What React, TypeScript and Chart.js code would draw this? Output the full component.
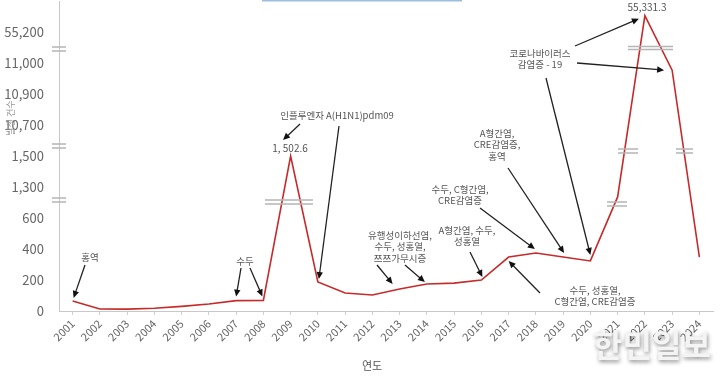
import React, { useEffect, useRef } from 'react';
import { Chart, registerables } from 'chart.js';
Chart.register(...registerables);

const YEARS = ['2001','2002','2003','2004','2005','2006','2007','2008','2009','2010','2011','2012','2013','2014','2015','2016','2017','2018','2019','2020','2021','2022','2023','2024'];
const CASES = [65, 13, 12, 18, 30, 45, 67, 68, 1502.6, 187, 116, 103, 142, 174, 180, 200, 348, 374, 348, 323, 1076, 55331.3, 10977, 348];
// broken axis: evenly spaced segment boundaries
const Y_BREAKS = [0, 200, 400, 600, 1300, 1500, 10700, 10900, 11000, 55200, 55450];
const Y_TICK_LABELS = ['0', '200', '400', '600', '1,300', '1,500', '10,700', '10,900', '11,000', '55,200'];

const FONT = '"Noto Sans CJK KR", "Noto Sans", sans-serif';

function toAxis(v: number): number {
  for (let i = 0; i < Y_BREAKS.length - 1; i++) {
    if (v <= Y_BREAKS[i + 1]) return i + (v - Y_BREAKS[i]) / (Y_BREAKS[i + 1] - Y_BREAKS[i]);
  }
  return Y_BREAKS.length - 1;
}

function arrow(ctx: CanvasRenderingContext2D, x1: number, y1: number, x2: number, y2: number) {
  const a = Math.atan2(y2 - y1, x2 - x1);
  const h = 7;
  ctx.save();
  ctx.strokeStyle = '#222';
  ctx.fillStyle = '#111';
  ctx.lineWidth = 1.3;
  ctx.beginPath();
  ctx.moveTo(x1, y1);
  ctx.lineTo(x2 - Math.cos(a) * h * 0.8, y2 - Math.sin(a) * h * 0.8);
  ctx.stroke();
  ctx.beginPath();
  ctx.moveTo(x2, y2);
  ctx.lineTo(x2 - h * Math.cos(a) + 3.2 * Math.sin(a), y2 - h * Math.sin(a) - 3.2 * Math.cos(a));
  ctx.lineTo(x2 - h * Math.cos(a) - 3.2 * Math.sin(a), y2 - h * Math.sin(a) + 3.2 * Math.cos(a));
  ctx.closePath();
  ctx.fill();
  ctx.restore();
}

function texts(ctx: CanvasRenderingContext2D, lines: string[], cx: number, cy: number, size = 9.5, lh = 11.5, color = '#555') {
  ctx.save();
  ctx.fillStyle = color;
  ctx.font = `${size}px ${FONT}`;
  ctx.textAlign = 'center';
  ctx.textBaseline = 'middle';
  lines.forEach((l, i) => ctx.fillText(l, cx, cy + i * lh));
  ctx.restore();
}

function breakMark(ctx: CanvasRenderingContext2D, x1: number, x2: number, y: number, gap = 4) {
  ctx.save();
  ctx.strokeStyle = '#b5b5b5';
  ctx.lineWidth = 1.6;
  ctx.beginPath();
  ctx.moveTo(x1, y - gap / 2); ctx.lineTo(x2, y - gap / 2);
  ctx.moveTo(x1, y + gap / 2); ctx.lineTo(x2, y + gap / 2);
  ctx.stroke();
  ctx.restore();
}

const annotPlugin = {
  id: 'annot',
  afterDatasetsDraw(chart: any) {
    const ctx: CanvasRenderingContext2D = chart.ctx;
    const xs = chart.scales.x, ys = chart.scales.y;
    const P = (i: number) => ({ x: xs.getPixelForValue(i), y: ys.getPixelForValue(toAxis(CASES[i])) });

    // top thin blue line
    ctx.save();
    ctx.strokeStyle = '#9fbde0';
    ctx.lineWidth = 1.5;
    ctx.beginPath(); ctx.moveTo(262, 0.8); ctx.lineTo(462, 0.8); ctx.stroke();
    ctx.restore();

    // axis break marks
    const ax = chart.chartArea.left;
    [49, 146, 200].forEach((y) => breakMark(ctx, ax - 7, ax + 7, y));
    // line break marks
    breakMark(ctx, 265, 313, 202);
    breakMark(ctx, 607, 627, 204);
    breakMark(ctx, 618, 638, 151);
    breakMark(ctx, 676, 693, 151);
    breakMark(ctx, 628, 673, 48, 3);

    // annotations
    const p0 = P(0);
    texts(ctx, ['홍역'], 90, 257);
    arrow(ctx, 85, 265, p0.x + 1, p0.y - 3);

    const p6 = P(6), p7 = P(7);
    texts(ctx, ['수두'], 245, 261);
    arrow(ctx, 241, 268, p6.x, p6.y - 4);
    arrow(ctx, 250, 268, p7.x - 1, p7.y - 4);

    const p9 = P(9);
    texts(ctx, ['인플루엔자 A(H1N1)pdm09'], 337, 115);
    arrow(ctx, 300, 124, 283, 140);
    arrow(ctx, 339, 126, p9.x + 1, p9.y - 3);
    texts(ctx, ['1, 502.6'], 290, 148, 10);

    const p12 = P(12), p13 = P(13);
    texts(ctx, ['유행성이하선염,', '수두, 성홍열,', '쯔쯔가무시증'], 400, 235);
    arrow(ctx, 377, 265, p12.x - 7, p12.y - 5);
    arrow(ctx, 405, 265, p13.x - 2, p13.y - 2);

    const p15 = P(15);
    texts(ctx, ['A형간염, 수두,', '성홍열'], 467, 230);
    arrow(ctx, 470, 252, p15.x + 1, p15.y - 3);

    const p17 = P(17), p18 = P(18), p19 = P(19), p16 = P(16);
    texts(ctx, ['수두, C형간염,', 'CRE감염증'], 460, 189);
    arrow(ctx, 480, 208, p17.x - 1, p17.y - 4);

    texts(ctx, ['A형간염,', 'CRE감염증,', '홍역'], 497, 133);
    arrow(ctx, 508, 168, p18.x + 1, p18.y - 4);

    const p21 = P(21), p22 = P(22);
    texts(ctx, ['코로나바이러스', '감염증 - 19'], 540, 53);
    arrow(ctx, 575, 46, p21.x - 6, p21.y + 3);
    arrow(ctx, 577, 63, p22.x - 8, p22.y);
    arrow(ctx, 546, 78, p19.x, p19.y - 6);
    texts(ctx, ['55,331.3'], 647, 7, 10);

    texts(ctx, ['수두, 성홍열,', 'C형간염, CRE감염증'], 595, 290);
    arrow(ctx, 540, 293, p16.x, p16.y + 4);

    // y axis title
    ctx.save();
    ctx.translate(11, 118);
    ctx.rotate(-Math.PI / 2);
    ctx.fillStyle = '#999';
    ctx.font = `9px ${FONT}`;
    ctx.textAlign = 'center';
    ctx.textBaseline = 'middle';
    ctx.fillText('발생 건수', 0, 0);
    ctx.restore();

    // x axis title
    texts(ctx, ['연도'], 372, 366, 11);

    // watermark
    ctx.save();
    ctx.font = `bold 32px ${FONT}`;
    ctx.textAlign = 'center';
    ctx.textBaseline = 'middle';
    ctx.shadowColor = 'rgba(0,0,0,0.45)';
    ctx.shadowBlur = 4;
    ctx.shadowOffsetX = 1;
    ctx.shadowOffsetY = 2;
    ctx.fillStyle = '#f4f4f4';
    ctx.fillText('한민일보', 652, 345);
    ctx.restore();
  },
};

export default function App() {
  const ref = useRef<HTMLCanvasElement>(null);
  useEffect(() => {
    if (!ref.current) return;
    const chart = new Chart(ref.current, {
      type: 'line',
      data: {
        labels: YEARS,
        datasets: [
          {
            data: CASES.map(toAxis),
            borderColor: '#c62a2a',
            borderWidth: 1.6,
            pointRadius: 0,
            tension: 0,
            fill: false,
          },
        ],
      },
      options: {
        responsive: false,
        animation: false,
        devicePixelRatio: 1,
        layout: { padding: { top: 1, right: 10, left: 0, bottom: 0 } },
        plugins: { legend: { display: false }, tooltip: { enabled: false } },
        scales: {
          x: {
            type: 'category',
            offset: true,
            afterFit: (s: any) => { s.height = 66; s.paddingLeft = 0; s.paddingRight = 0; },
            grid: { display: true, drawOnChartArea: false, tickLength: 4, color: '#cfcfcf' },
            border: { color: '#c8c8c8' },
            ticks: {
              autoSkip: false,
              maxRotation: 45,
              minRotation: 45,
              color: '#666',
              font: { family: FONT, size: 11 },
              padding: 2,
            },
          },
          y: {
            type: 'linear',
            min: 0,
            max: 10,
            afterFit: (s: any) => { s.width = 59; s.paddingTop = 0; s.paddingBottom = 0; },
            grid: { display: false },
            border: { display: true, color: '#c8c8c8' },
            ticks: {
              stepSize: 1,
              color: '#666',
              font: { family: FONT, size: 13 },
              padding: 7,
              callback: (v: any) => Y_TICK_LABELS[v] ?? '',
            },
          },
        },
      },
      plugins: [annotPlugin],
    });
    return () => chart.destroy();
  }, []);
  return (
    <div style={{ position: 'fixed', left: 0, top: 0, width: 723, height: 377, background: '#fff' }}>
      <canvas ref={ref} width={723} height={377} style={{ display: 'block' }} />
    </div>
  );
}
